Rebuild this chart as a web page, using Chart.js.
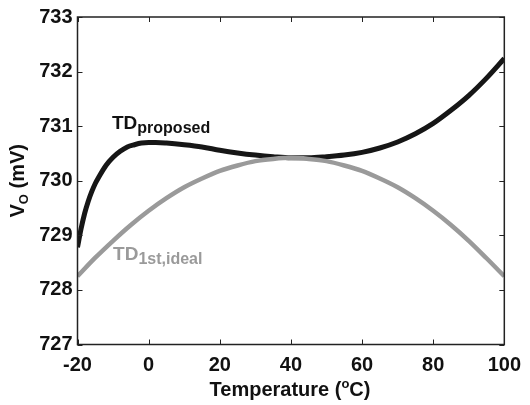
<!DOCTYPE html>
<html>
<head>
<meta charset="utf-8">
<script src="https://cdn.jsdelivr.net/npm/chart.js@4.4.1/dist/chart.umd.min.js"></script>
<style>
  html, body { margin: 0; padding: 0; background: #fff; }
  #wrap { width: 530px; height: 405px; }
</style>
</head>
<body>
<div id="wrap"><canvas id="c" width="530" height="405"></canvas></div>
<script>
// Output voltage versus temperature for the two designs
const tempsProposed = [-20, -19, -18, -17, -16, -15, -14, -12, -10, -8, -6, -4, -2, 0, 2, 5, 10, 15, 20, 25, 30, 35, 40, 45, 50, 55, 60, 65, 70, 75, 80, 85, 90, 95, 100];
const voProposed = [728.78, 729.12, 729.40, 729.62, 729.80, 729.95, 730.07, 730.28, 730.43, 730.54, 730.62, 730.66, 730.69, 730.70, 730.70, 730.69, 730.66, 730.62, 730.56, 730.51, 730.47, 730.44, 730.42, 730.42, 730.44, 730.47, 730.52, 730.60, 730.71, 730.86, 731.05, 731.29, 731.56, 731.88, 732.24];

const tempsIdeal = [-20, -15, -10, -5, 0, 5, 10, 15, 20, 25, 30, 35, 40, 45, 50, 55, 60, 65, 70, 75, 80, 85, 90, 95, 100];
const voIdeal = [728.25, 728.59, 728.90, 729.19, 729.45, 729.68, 729.88, 730.04, 730.18, 730.28, 730.36, 730.40, 730.42, 730.40, 730.36, 730.28, 730.18, 730.04, 729.88, 729.68, 729.45, 729.19, 728.90, 728.58, 728.25];

const xTicks = [-20, 0, 20, 40, 60, 80, 100];
const yTicks = [727, 728, 729, 730, 731, 732, 733];

const FONT = '"Liberation Sans", Arial, Helvetica, sans-serif';
const INK = '#111';
const GREY = '#9a9a9a';

function toPoints(xs, ys) { return xs.map((x, i) => ({ x: x, y: ys[i] })); }

// Frame with inward tick marks on all four sides
const framePlugin = {
  id: 'frame',
  afterDraw(chart) {
    const { ctx, chartArea: a, scales: { x, y } } = chart;
    ctx.save();
    ctx.strokeStyle = '#222';
    ctx.lineWidth = 1.5;
    ctx.strokeRect(a.left, a.top, a.right - a.left, a.bottom - a.top);
    ctx.lineWidth = 1;
    const len = 5;
    ctx.beginPath();
    x.ticks.forEach(t => {
      const px = Math.round(x.getPixelForValue(t.value)) + 0.5;
      ctx.moveTo(px, a.bottom); ctx.lineTo(px, a.bottom - len);
      ctx.moveTo(px, a.top); ctx.lineTo(px, a.top + len);
    });
    y.ticks.forEach(t => {
      const py = Math.round(y.getPixelForValue(t.value)) + 0.5;
      ctx.moveTo(a.left, py); ctx.lineTo(a.left + len, py);
      ctx.moveTo(a.right, py); ctx.lineTo(a.right - len, py);
    });
    ctx.stroke();
    ctx.restore();
  }
};

// Draws a run of text pieces, each with its own size and vertical shift
function drawRich(ctx, parts, x, y, align) {
  let total = 0;
  parts.forEach(p => { ctx.font = 'bold ' + p.size + 'px ' + FONT; total += ctx.measureText(p.text).width; });
  let cx = align === 'center' ? x - total / 2 : x;
  parts.forEach(p => {
    ctx.font = 'bold ' + p.size + 'px ' + FONT;
    ctx.fillText(p.text, cx, y + (p.dy || 0));
    cx += ctx.measureText(p.text).width;
  });
}

// Axis titles and curve labels with sub/superscripts
const textPlugin = {
  id: 'texts',
  afterDraw(chart) {
    const { ctx, chartArea: a, scales: { x, y } } = chart;
    ctx.save();
    ctx.textBaseline = 'alphabetic';
    ctx.textAlign = 'left';

    ctx.fillStyle = INK;
    drawRich(ctx, [
      { text: 'Temperature (', size: 20 },
      { text: 'o', size: 13, dy: -8 },
      { text: 'C)', size: 20 }
    ], 290, 396, 'center');

    ctx.save();
    ctx.translate(24, (a.top + a.bottom) / 2);
    ctx.rotate(-Math.PI / 2);
    drawRich(ctx, [
      { text: 'V', size: 20 },
      { text: 'O', size: 13, dy: 4 },
      { text: ' (mV)', size: 20 }
    ], 0, 0, 'center');
    ctx.restore();

    ctx.fillStyle = INK;
    drawRich(ctx, [
      { text: 'TD', size: 19 },
      { text: 'proposed', size: 16, dy: 4 }
    ], x.getPixelForValue(-10.3), y.getPixelForValue(730.95), 'left');

    ctx.fillStyle = GREY;
    drawRich(ctx, [
      { text: 'TD', size: 19 },
      { text: '1st,ideal', size: 16, dy: 4 }
    ], x.getPixelForValue(-10.0), y.getPixelForValue(728.55), 'left');

    ctx.restore();
  }
};

new Chart(document.getElementById('c'), {
  type: 'line',
  data: {
    datasets: [
      {
        label: 'TD 1st,ideal',
        data: toPoints(tempsIdeal, voIdeal),
        borderColor: GREY,
        borderWidth: 4.5,
        pointRadius: 0,
        cubicInterpolationMode: 'monotone',
        fill: false
      },
      {
        label: 'TD proposed',
        data: toPoints(tempsProposed, voProposed),
        borderColor: '#161616',
        borderWidth: 5,
        pointRadius: 0,
        cubicInterpolationMode: 'monotone',
        fill: false
      }
    ]
  },
  options: {
    responsive: false,
    animation: false,
    devicePixelRatio: 1,
    layout: { padding: { top: 11, right: 18.5, left: 0, bottom: 0 } },
    plugins: { legend: { display: false }, tooltip: { enabled: false } },
    scales: {
      x: {
        type: 'linear',
        min: -20, max: 100,
        afterBuildTicks(scale) { scale.ticks = xTicks.map(v => ({ value: v })); },
        afterFit(scale) { scale.height = 60.5; },
        ticks: { color: INK, padding: 9, font: { family: FONT, size: 20, weight: 'bold' }, maxRotation: 0 },
        grid: { display: false, drawTicks: false },
        border: { display: false }
      },
      y: {
        type: 'linear',
        min: 727, max: 733,
        afterBuildTicks(scale) { scale.ticks = yTicks.map(v => ({ value: v })); },
        afterFit(scale) { scale.width = 77.5; },
        ticks: { color: INK, padding: 5, font: { family: FONT, size: 20, weight: 'bold' } },
        grid: { display: false, drawTicks: false },
        border: { display: false }
      }
    }
  },
  plugins: [framePlugin, textPlugin]
});
</script>
</body>
</html>
